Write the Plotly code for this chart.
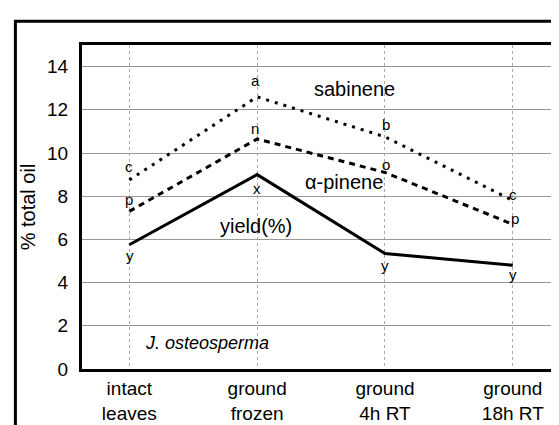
import plotly.graph_objects as go

categories = ["intact<br>leaves", "ground<br>frozen", "ground<br>4h RT", "ground<br>18h RT"]
sabinene = [8.75, 12.6, 10.75, 7.8]
alpha_pinene = [7.3, 10.65, 9.1, 6.7]
yield_pct = [5.75, 9.0, 5.35, 4.8]
sabinene_letters = ["c", "a", "b", "c"]
pinene_letters = ["p", "n", "o", "p"]
yield_letters = ["y", "x", "y", "y"]
y_ticks = [0, 2, 4, 6, 8, 10, 12, 14]

FONT = "Liberation Sans, Arial, sans-serif"
xs = list(range(len(categories)))

fig = go.Figure()
fig.add_trace(go.Scatter(x=xs, y=sabinene, mode="lines",
                         line=dict(color="black", width=3, dash="3px,6px")))
fig.add_trace(go.Scatter(x=xs, y=alpha_pinene, mode="lines",
                         line=dict(color="black", width=3, dash="6px,5px")))
fig.add_trace(go.Scatter(x=xs, y=yield_pct, mode="lines",
                         line=dict(color="black", width=3)))

ann = []
sab_shift = [(0, 14), (-2, 16), (1, 12), (0, 6)]
pin_shift = [(0, 12), (-2, 10), (1, 8), (2, 6)]
yld_shift = [(1, -11), (0, -14), (0, -12), (0, -9)]
for i in xs:
    for vals, letters, shifts in ((sabinene, sabinene_letters, sab_shift),
                                  (alpha_pinene, pinene_letters, pin_shift),
                                  (yield_pct, yield_letters, yld_shift)):
        ann.append(dict(x=i, y=vals[i], text=letters[i], showarrow=False,
                        xshift=shifts[i][0], yshift=shifts[i][1],
                        font=dict(family=FONT, size=15, color="black")))

ann += [
    dict(x=1.76, y=12.95, text="sabinene", showarrow=False,
         font=dict(family=FONT, size=20, color="black")),
    dict(x=1.68, y=8.65, text="α-pinene", showarrow=False,
         font=dict(family=FONT, size=20, color="black")),
    dict(x=0.99, y=6.62, text="yield(%)", showarrow=False,
         font=dict(family=FONT, size=20, color="black")),
    dict(x=0.11, y=1.2, text="<i>J. osteosperma</i>", showarrow=False,
         xanchor="left", font=dict(family=FONT, size=18, color="black")),
]

fig.update_layout(
    width=559, height=425,
    margin=dict(l=74, r=9, t=37, b=62),
    paper_bgcolor="white", plot_bgcolor="white",
    showlegend=False,
    font=dict(family=FONT, size=19, color="black"),
    annotations=ann,
    shapes=[dict(type="rect", xref="paper", yref="paper",
                 x0=-0.1408, x1=1.1, y0=-0.4, y1=1.0736,
                 line=dict(color="black", width=3))],
    xaxis=dict(range=[-0.37, 3.33], tickvals=xs, ticktext=categories,
               showgrid=True, gridcolor="#aaaaaa", gridwidth=1, griddash="dot",
               showline=True, mirror=True, linecolor="black", linewidth=3,
               ticks="", zeroline=False, tickfont=dict(size=19)),
    yaxis=dict(range=[0, 15], tickvals=y_ticks,
               showgrid=True, gridcolor="#999999", gridwidth=1,
               showline=True, mirror=True, linecolor="black", linewidth=3,
               ticks="", zeroline=False, tickfont=dict(size=19),
               ticklabelstandoff=7,
               title=dict(text="% total oil", font=dict(size=20), standoff=7)),
)

fig.write_html("out.html")
